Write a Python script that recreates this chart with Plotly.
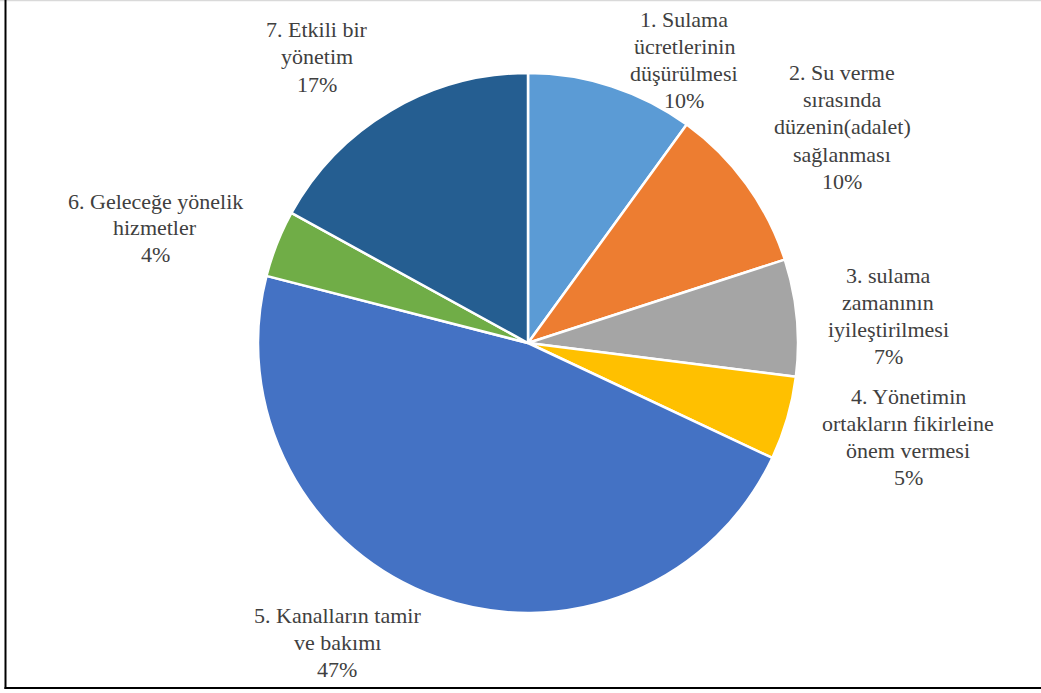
import plotly.graph_objects as go

W, H = 1041, 693

# Survey answers, in clockwise order from 12 o'clock
labels = [
    ["1. Sulama", "ücretlerinin", "düşürülmesi"],
    ["2. Su verme", "sırasında", "düzenin(adalet)", "sağlanması"],
    ["3. sulama", "zamanının", "iyileştirilmesi"],
    ["4. Yönetimin", "ortakların fikirleine", "önem vermesi"],
    ["5. Kanalların tamir", "ve bakımı"],
    ["6. Geleceğe yönelik", "hizmetler"],
    ["7. Etkili bir", "yönetim"],
]
values = [10, 10, 7, 5, 47, 4, 17]

colors = ["#5B9BD5", "#ED7D31", "#A5A5A5", "#FFC000", "#4472C4", "#70AD47", "#255E91"]

# Label block centres in pixels (x from left, y from top)
label_pos = [(684, 60), (842, 127), (888, 316), (908, 437), (337, 642), (155, 228), (317, 57)]
LINE_GAP = 27  # px between text lines

# Pie geometry in pixels
cx, cy, r = 528, 343, 270

FONT = "Liberation Serif"

fig = go.Figure(go.Pie(
    values=values,
    labels=[" ".join(l) for l in labels],
    sort=False,
    direction="clockwise",
    rotation=0,
    textinfo="none",
    hoverinfo="label+percent",
    marker=dict(colors=colors, line=dict(color="white", width=2.5)),
    domain=dict(x=[(cx - r) / W, (cx + r) / W],
                y=[(H - cy - r) / H, (H - cy + r) / H]),
    showlegend=False,
))

annotations = []
for lines, val, (px, py) in zip(labels, values, label_pos):
    rows = lines + [f"{val}%"]
    n = len(rows)
    for i, row in enumerate(rows):
        ly = py + (i - (n - 1) / 2) * LINE_GAP
        annotations.append(dict(
            x=px / W, y=1 - ly / H, xref="paper", yref="paper",
            xanchor="center", yanchor="middle", align="center",
            text=row, showarrow=False,
            font=dict(family=FONT, size=22, color="#404040"),
        ))

# Outer frame
shapes = [
    dict(type="line", xref="paper", yref="paper", x0=0, x1=1, y0=1 - 0.5 / H, y1=1 - 0.5 / H,
         line=dict(color="#D9D9D9", width=1.5)),
    dict(type="line", xref="paper", yref="paper", x0=5.5 / W, x1=5.5 / W, y0=1 - 689 / H, y1=1,
         line=dict(color="black", width=2)),
    dict(type="line", xref="paper", yref="paper", x0=4.5 / W, x1=1, y0=1 - 688 / H, y1=1 - 688 / H,
         line=dict(color="black", width=2)),
]

fig.update_layout(
    width=W, height=H,
    margin=dict(l=0, r=0, t=0, b=0),
    paper_bgcolor="white", plot_bgcolor="white",
    font=dict(family=FONT),
    annotations=annotations, shapes=shapes,
)

fig.write_html("out.html")
